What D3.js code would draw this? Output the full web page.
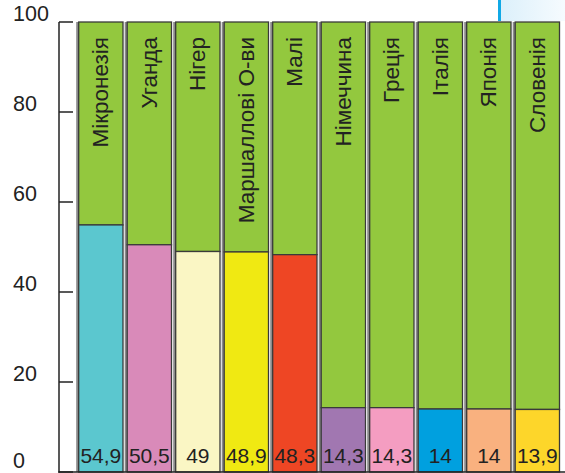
<!DOCTYPE html>
<html><head><meta charset="utf-8">
<script src="https://d3js.org/d3.v7.min.js"></script>
<style>body{margin:0;background:#fff}svg{display:block}</style>
</head><body>
<script>
const countries = ["Мікронезія","Уганда","Нігер","Маршаллові О-ви","Малі","Німеччина","Греція","Італія","Японія","Словенія"];
const values = [54.9,50.5,49,48.9,48.3,14.3,14.3,14,14,13.9];
const valueLabels = ["54,9","50,5","49","48,9","48,3","14,3","14,3","14","14","13,9"];
const colors = ["#5bc7cf","#d98ab9","#faf6c4","#f0e912","#ee4624","#a177b1","#f49dc1","#00a0df","#f9b17f","#fdd62a"];
const ticks = [0,20,40,60,80,100];

const W=565,H=473;
const font="Liberation Sans, Arial, sans-serif";
const svg=d3.select("body").append("svg").attr("width",W).attr("height",H);
const defs=svg.append("defs");
const g1=defs.append("linearGradient").attr("id","bg").attr("x1","0").attr("x2","1");
g1.append("stop").attr("offset","0").attr("stop-color","#dcf0fb");
g1.append("stop").attr("offset","1").attr("stop-color","#f6fbfe");
svg.append("rect").attr("x",501).attr("y",0).attr("width",64).attr("height",21).attr("fill","url(#bg)");
svg.append("rect").attr("x",498).attr("y",0).attr("width",3).attr("height",21).attr("fill","#11a9e6");

const y=d3.scaleLinear().domain([0,100]).range([472,22]);
const x=d3.scaleBand().domain(countries).range([78.7,559.5]).paddingInner(0.0866).paddingOuter(0);

ticks.forEach(t=>{
  svg.append("line").attr("x1",59).attr("x2",73).attr("y1",y(t)).attr("y2",y(t)).attr("stroke","#222").attr("stroke-width",1.5);
  svg.append("text").attr("x",13).attr("y",Math.min(y(t)-1.5,468)).text(t).attr("font-family",font).attr("font-size",21.5).attr("fill","#222");
});
svg.append("line").attr("x1",59).attr("x2",59).attr("y1",y(100)).attr("y2",y(0)+0.75).attr("stroke","#222").attr("stroke-width",1.5);

const bars=svg.append("g").selectAll("g").data(countries).join("g");
bars.append("rect").attr("x",d=>x(d)-2.5).attr("y",y(100)).attr("width",x.bandwidth()).attr("height",y(0)-y(100)).attr("fill","#8a8a8a");
bars.append("rect").attr("x",d=>x(d)).attr("y",y(100)).attr("width",x.bandwidth()).attr("height",(d,i)=>y(values[i])-y(100))
  .attr("fill","#93c83e").attr("stroke","#3a3a3a").attr("stroke-width",1.3);
bars.append("rect").attr("x",d=>x(d)).attr("y",(d,i)=>y(values[i])).attr("width",x.bandwidth()).attr("height",(d,i)=>y(0)-y(values[i]))
  .attr("fill",(d,i)=>colors[i]).attr("stroke","#3a3a3a").attr("stroke-width",1.3);
bars.append("text").attr("transform",d=>`translate(${x(d)+x.bandwidth()/2+7.5},37) rotate(-90)`)
  .attr("text-anchor","end").attr("font-family",font).attr("font-size",22.5).attr("fill","#222").text(d=>d);
bars.append("text").attr("x",d=>x(d)+x.bandwidth()/2).attr("y",463).attr("text-anchor","middle")
  .attr("font-family",font).attr("font-size",21).attr("fill","#222").text((d,i)=>valueLabels[i]);

svg.append("line").attr("x1",58.25).attr("x2",W).attr("y1",y(0)).attr("y2",y(0)).attr("stroke","#222").attr("stroke-width",1.5);
</script>
</body></html>
